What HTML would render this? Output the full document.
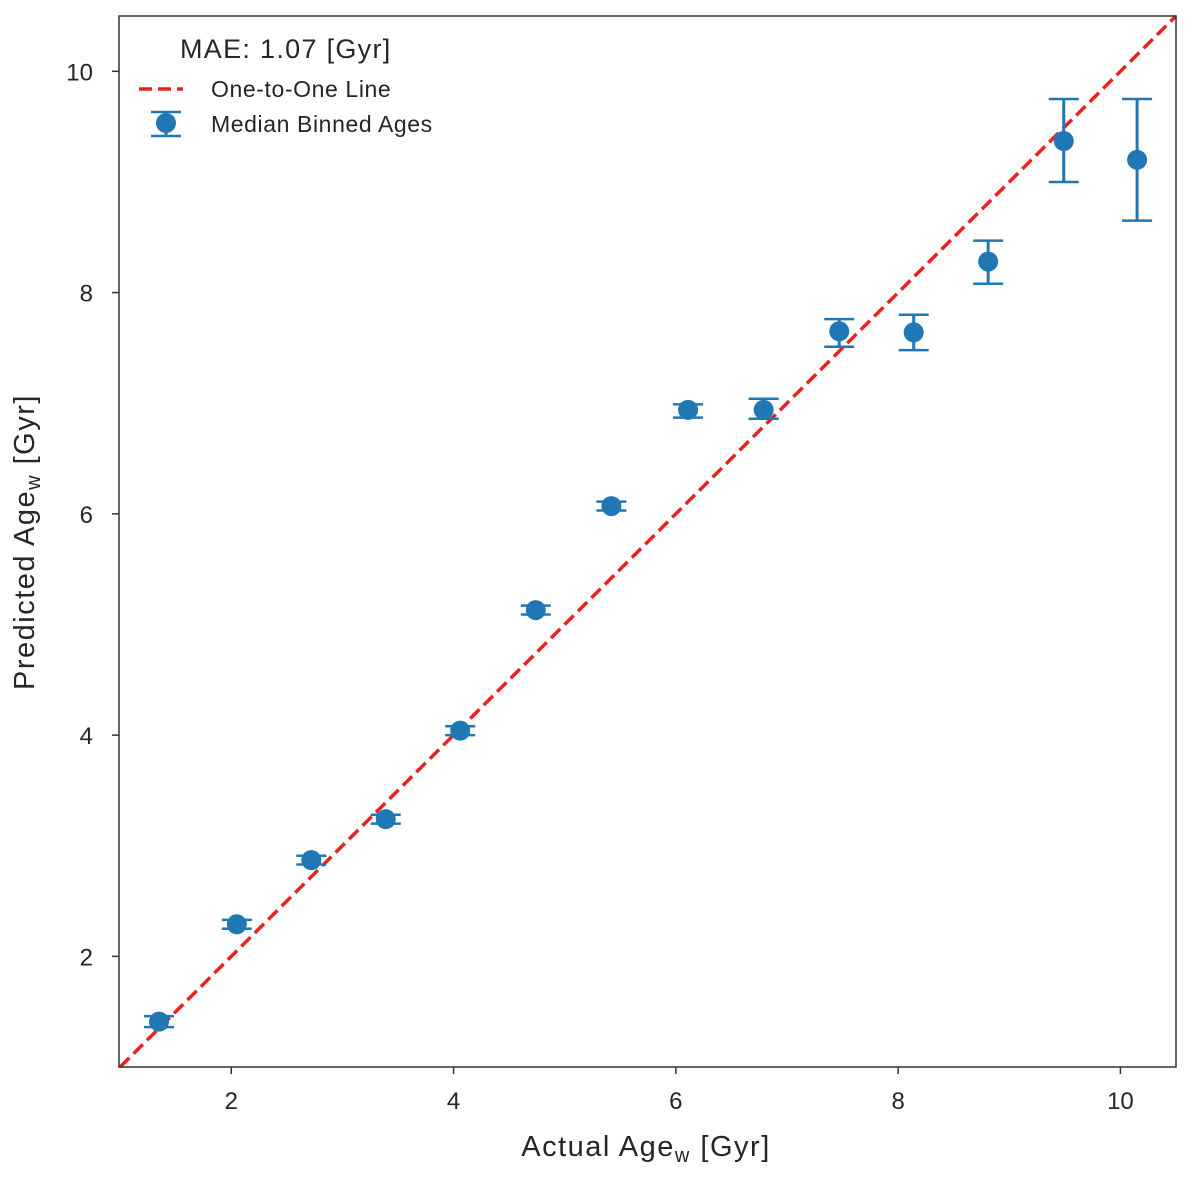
<!DOCTYPE html>
<html><head><meta charset="utf-8"><style>
body{margin:0;background:#fff;}
svg text{font-family:"Liberation Sans",sans-serif;fill:#262626;}
</style></head><body>
<svg id="c" width="1200" height="1189" xmlns="http://www.w3.org/2000/svg">
<g id="plot"></g>
</svg>
<script>
const xs=[1.35,2.05,2.72,3.39,4.06,4.74,5.42,6.11,6.79,7.47,8.14,8.81,9.49,10.15];
const ys=[1.41,2.29,2.87,3.24,4.04,5.13,6.07,6.94,6.94,7.65,7.64,8.28,9.37,9.20];
const yLo=[1.36,2.25,2.83,3.20,4.00,5.09,6.03,6.87,6.86,7.51,7.48,8.08,9.00,8.65];
const yHi=[1.46,2.33,2.91,3.28,4.08,5.17,6.11,6.99,7.04,7.76,7.80,8.47,9.75,9.75];
const xTicks=[2,4,6,8,10];
const yTicks=[2,4,6,8,10];
const L=119,R=1176,T=16,B=1067,xmin=0.99,xmax=10.5,ymin=1,ymax=10.5;
const X=v=>L+(v-xmin)/(xmax-xmin)*(R-L);
const Y=v=>B-(v-ymin)/(ymax-ymin)*(B-T);
const NS='http://www.w3.org/2000/svg';
const g=document.getElementById('plot');
function mk(t,a,p){const e=document.createElementNS(NS,t);for(const k in a)e.setAttribute(k,a[k]);(p||g).appendChild(e);return e;}
const ol=mk('line',{x1:X(1),y1:Y(1),x2:X(10.5),y2:Y(10.5),stroke:'#e8231f','stroke-width':3.5,'stroke-dasharray':'13,6'});


for(let i=0;i<xs.length;i++){
 const gg=mk('g',{});
 
 
 const cx=X(xs[i]);
 mk('line',{x1:cx,x2:cx,y1:Y(yLo[i]),y2:Y(yHi[i]),stroke:'#1f77b4','stroke-width':3},gg);
 mk('line',{x1:cx-15,x2:cx+15,y1:Y(yLo[i]),y2:Y(yLo[i]),stroke:'#1f77b4','stroke-width':2.5},gg);
 mk('line',{x1:cx-15,x2:cx+15,y1:Y(yHi[i]),y2:Y(yHi[i]),stroke:'#1f77b4','stroke-width':2.5},gg);
 mk('circle',{cx:cx,cy:Y(ys[i]),r:10,fill:'#1f77b4'},gg);
}
const fr=mk('rect',{x:L,y:T,width:R-L,height:B-T,fill:'none',stroke:'#333','stroke-width':1.5});


xTicks.forEach(v=>{
 mk('line',{x1:X(v),x2:X(v),y1:B,y2:B+7,stroke:'#333','stroke-width':1.5});
 const t=mk('text',{x:X(v),y:B+42,'font-size':24,'text-anchor':'middle'});t.textContent=v;
 
 
});
yTicks.forEach(v=>{
 mk('line',{x1:L-7,x2:L,y1:Y(v),y2:Y(v),stroke:'#333','stroke-width':1.5});
 const t=mk('text',{x:L-26,y:Y(v)+9,'font-size':24,'text-anchor':'end'});t.textContent=v;
 
 
});
</script>
<svg style="position:absolute;left:0;top:0" width="1200" height="1189" xmlns="http://www.w3.org/2000/svg">
<text x="646" y="1156" font-size="29" letter-spacing="1.5" text-anchor="middle">Actual Age<tspan font-size="20" dy="6">w</tspan><tspan dy="-6"> [Gyr]</tspan></text>
<text transform="translate(34,542) rotate(-90)" font-size="29" letter-spacing="1.5" text-anchor="middle">Predicted Age<tspan font-size="20" dy="6">w</tspan><tspan dy="-6">  [Gyr]</tspan></text>
<g>
<text x="180" y="58" font-size="27" letter-spacing="1.3">MAE: 1.07 [Gyr]</text>
<line x1="139" y1="89" x2="183" y2="89" stroke="#e8231f" stroke-width="3.5" stroke-dasharray="13,6"/>
<text x="211" y="97" font-size="23" letter-spacing="0.6">One-to-One Line</text>
<line x1="151" y1="112" x2="181" y2="112" stroke="#1f77b4" stroke-width="2.5"/>
<line x1="151" y1="136" x2="181" y2="136" stroke="#1f77b4" stroke-width="2.5"/>
<line x1="166" y1="112" x2="166" y2="136" stroke="#1f77b4" stroke-width="3"/>
<circle cx="166" cy="123" r="10" fill="#1f77b4"/>
<text x="211" y="132" font-size="23" letter-spacing="0.6">Median Binned Ages</text>
</g>
</svg>
</body></html>
